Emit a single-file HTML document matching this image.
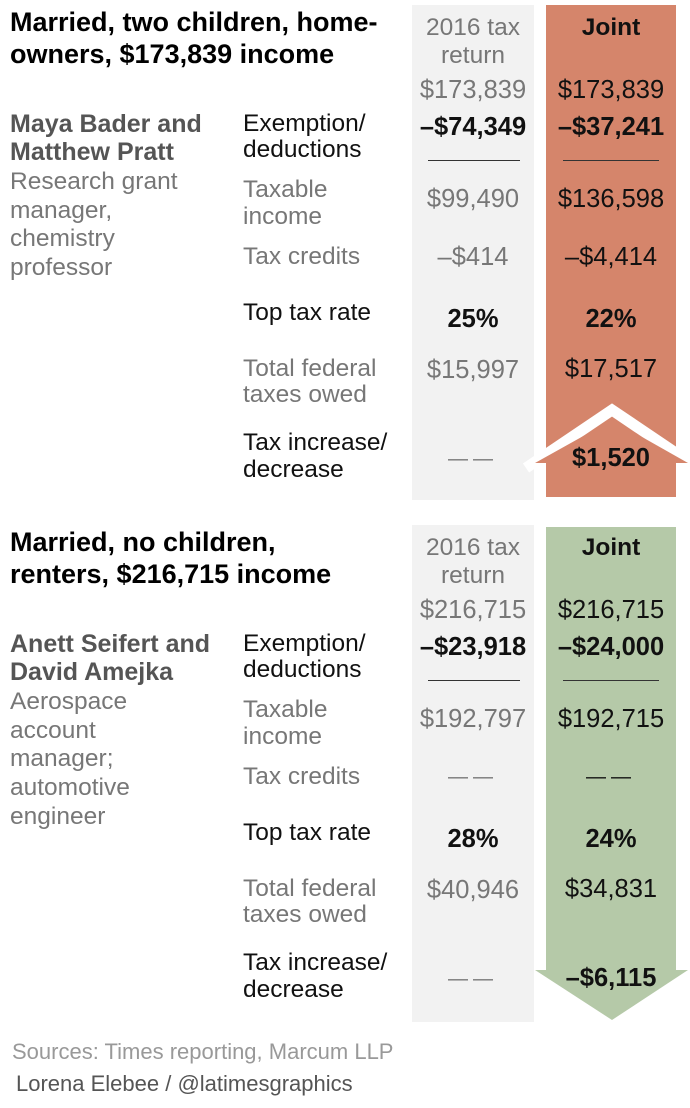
<!DOCTYPE html>
<html><head><meta charset="utf-8">
<style>
body{margin:0;width:690px;height:1108px;background:#fff;position:relative;overflow:hidden;font-family:"Liberation Sans",sans-serif}
.t{position:absolute;white-space:nowrap;line-height:28px;height:28px;font-size:24.5px}
.g{color:#777}.k{color:#111}.b{font-weight:bold}
.c1{left:412px;width:122px;text-align:center}
.c2{left:546px;width:130px;text-align:center}
.v{font-size:25.5px}
.h{font-size:27px;font-weight:bold;color:#000;line-height:32px;height:32px}
.nm{color:#555;font-weight:bold;font-size:25px}
.rule{position:absolute;height:1px;background:#333}
.dash{letter-spacing:5px;font-size:20px}
</style></head><body>
<div style="position:absolute;left:412px;top:5px;width:122px;height:495px;background:#f2f2f2"></div>
<div style="position:absolute;left:412px;top:525px;width:122px;height:497px;background:#f2f2f2"></div>
<svg width="690" height="1108" style="position:absolute;left:0;top:0">
<rect x="546" y="5" width="130" height="492" fill="#d5856b"/>
<polyline points="526,468 612,410 698,468" fill="none" stroke="#fff" stroke-width="11"/>
<polygon points="535,463 612,420 688,463" fill="#d5856b"/>
<rect x="546" y="527" width="130" height="443" fill="#b5c9a8"/>
<polygon points="535,970 688,970 612,1020" fill="#b5c9a8"/>
</svg>

<div class="t h" style="left:10px;top:6px">Married, two children, home-</div>
<div class="t h" style="left:10px;top:38px">owners, $173,839 income</div>
<div class="t nm" style="left:10px;top:110px">Maya Bader and</div>
<div class="t nm" style="left:10px;top:138px">Matthew Pratt</div>
<div class="t g" style="left:10px;top:168px">Research grant</div>
<div class="t g" style="left:10px;top:197px">manager,</div>
<div class="t g" style="left:10px;top:225px">chemistry</div>
<div class="t g" style="left:10px;top:254px">professor</div>

<div class="t h" style="left:10px;top:526px">Married, no children,</div>
<div class="t h" style="left:10px;top:558px">renters, $216,715 income</div>
<div class="t nm" style="left:10px;top:630px">Anett Seifert and</div>
<div class="t nm" style="left:10px;top:658px">David Amejka</div>
<div class="t g" style="left:10px;top:688px">Aerospace</div>
<div class="t g" style="left:10px;top:717px">account</div>
<div class="t g" style="left:10px;top:745px">manager;</div>
<div class="t g" style="left:10px;top:774px">automotive</div>
<div class="t g" style="left:10px;top:803px">engineer</div>

<div class="t" style="left:12px;top:1038px;font-size:22px;color:#999">Sources: Times reporting, Marcum LLP</div>
<div class="t" style="left:16px;top:1070px;font-size:22px;color:#555">Lorena Elebee / @latimesgraphics</div>

<script>
const sections=[
 {off:0,income:"$173,839",ex:["–$74,349","–$37,241"],ti:["$99,490","$136,598"],tc:["–$414","–$4,414"],rate:["25%","22%"],tot:["$15,997","$17,517"],chg:["——","$1,520"]},
 {off:520,income:"$216,715",ex:["–$23,918","–$24,000"],ti:["$192,797","$192,715"],tc:["——","——"],rate:["28%","24%"],tot:["$40,946","$34,831"],chg:["——","–$6,115"]}
];
function T(txt,cls,y,left,name){
 const d=document.createElement('div');
 if(txt==="——")cls+=" dash";
 d.className='t '+cls;d.textContent=txt;d.style.top=(y-13)+'px';
 if(left!=null)d.style.left=left+'px';
 
 
 document.body.appendChild(d);
}
sections.forEach((s,i)=>{
 const o=s.off,L=243;
 T("2016 tax","g c1",27+o,null,"col-2016-header");
 T("return","g c1",55+o,null,"col-2016-header-b");
 T("Joint","k b c2",27+o,null,"col-joint-header");
 T(s.income,"g c1 v",89+o,null,"income-2016");
 T(s.income,"k c2 v",89+o,null,"income-joint");
 T("Exemption/","k",123+o,L,"label-exemption");
 T("deductions","k",149+o,L,"label-deductions");
 T(s.ex[0],"k b c1 v",126+o,null,"exemption-2016");
 T(s.ex[1],"k b c2 v",126+o,null,"exemption-joint");
 [[428,92],[563,96]].forEach((r,j)=>{const d=document.createElement('div');d.className='rule';d.style.left=r[0]+'px';d.style.width=r[1]+'px';d.style.top=(160+o)+'px';
  
  
  document.body.appendChild(d);});
 T("Taxable","g",189+o,L,"label-taxable");
 T("income","g",216+o,L,"label-income");
 T(s.ti[0],"g c1 v",198+o,null,"taxable-2016");
 T(s.ti[1],"k c2 v",198+o,null,"taxable-joint");
 T("Tax credits","g",256+o,L,"label-credits");
 T(s.tc[0],"g c1 v",256+o,null,"credits-2016");
 T(s.tc[1],"k c2 v",256+o,null,"credits-joint");
 T("Top tax rate","k",312+o,L,"label-rate");
 T(s.rate[0],"k b c1 v",318+o,null,"rate-2016");
 T(s.rate[1],"k b c2 v",318+o,null,"rate-joint");
 T("Total federal","g",368+o,L,"label-total");
 T("taxes owed","g",394+o,L,"label-total-b");
 T(s.tot[0],"g c1 v",369+o,null,"total-2016");
 T(s.tot[1],"k c2 v",368+o,null,"total-joint");
 T("Tax increase/","k",442+o,L,"label-change");
 T("decrease","k",469+o,L,"label-change-b");
 T(s.chg[0],"g c1 v",458+o,null,"change-2016");
 T(s.chg[1],"k b c2 v",457+o,null,"change-joint");
});
</script>
</body></html>
